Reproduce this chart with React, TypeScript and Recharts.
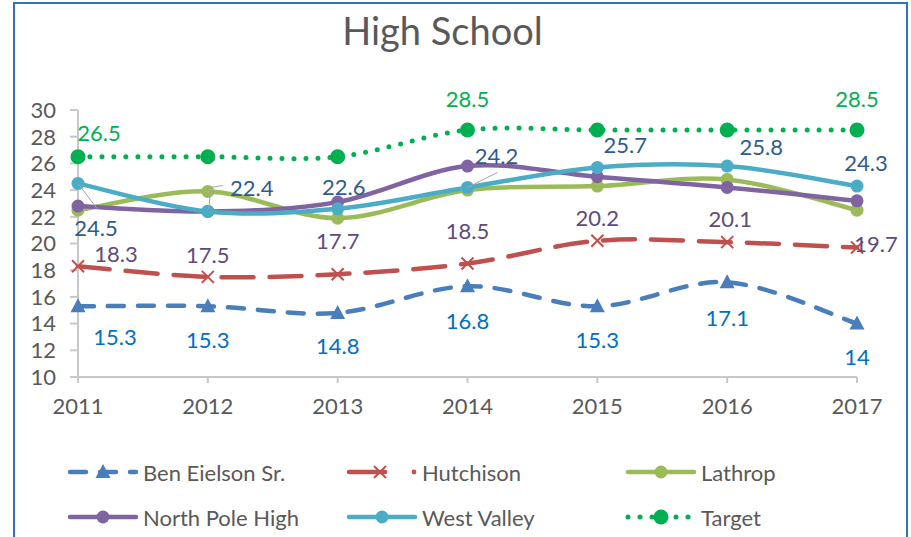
import React from 'react';
import { LineChart, Line, XAxis, YAxis, LabelList } from 'recharts';

const YEARS = ['2011', '2012', '2013', '2014', '2015', '2016', '2017'];
const BEN_EIELSON = [15.3, 15.3, 14.8, 16.8, 15.3, 17.1, 14];
const HUTCHISON = [18.3, 17.5, 17.7, 18.5, 20.2, 20.1, 19.7];
const LATHROP = [22.5, 23.9, 21.9, 24.0, 24.3, 24.8, 22.5];
const NORTH_POLE = [22.8, 22.4, 23.1, 25.8, 25.0, 24.2, 23.2];
const WEST_VALLEY = [24.5, 22.4, 22.6, 24.2, 25.7, 25.8, 24.3];
const TARGET = [26.5, 26.5, 26.5, 28.5, 28.5, 28.5, 28.5];
const Y_TICKS = [10, 12, 14, 16, 18, 20, 22, 24, 26, 28, 30];

const data = YEARS.map((year, i) => ({
  year,
  ben: BEN_EIELSON[i],
  hut: HUTCHISON[i],
  lat: LATHROP[i],
  np: NORTH_POLE[i],
  wv: WEST_VALLEY[i],
  target: TARGET[i],
}));

const FONT = 'Lato, "Open Sans", sans-serif';
const GREY_TEXT = '#595959';
const AXIS_GREY = '#c8c8c8';
const TEXT_SIZE = 22;

// label offsets from the point (centre of text), hand-placed like the excel labels
const BEN_LABEL_POS = [[37, 30], [0, 33], [0, 33], [0, 34], [0, 33], [0, 35], [0, 33]];
const HUT_LABEL_POS = [[38, -13], [0, -22], [0, -34], [0, -33], [0, -23], [3, -24], [19, -4]];
const WV_LABEL_POS = [[18, 44], [44, -24], [6, -22], [29, -32], [28, -23], [34, -20], [9, -24]];
const TARGET_LABEL_POS = [[21, -24], null, null, [0, -32], null, null, [0, -32]];
const WV_LEADERS: Record<number, number[][]> = {
  0: [[0, 0], [19, 25]],
  1: [[1, -3], [3, -24], [15, -26]],
  3: [[0, 0], [30, -15]],
};

// excel-like smoothing (catmull-rom as bezier)
const curveExcel = (context: any) => {
  let pts: number[][] = [];
  return {
    areaStart() {},
    areaEnd() {},
    lineStart() {
      pts = [];
    },
    point(x: number, y: number) {
      pts.push([+x, +y]);
    },
    lineEnd() {
      const n = pts.length;
      if (!n) return;
      context.moveTo(pts[0][0], pts[0][1]);
      for (let i = 0; i < n - 1; i++) {
        const p0 = pts[i - 1] || pts[i];
        const p1 = pts[i];
        const p2 = pts[i + 1];
        const p3 = pts[i + 2] || p2;
        context.bezierCurveTo(
          p1[0] + (p2[0] - p0[0]) / 6,
          p1[1] + (p2[1] - p0[1]) / 6,
          p2[0] - (p3[0] - p1[0]) / 6,
          p2[1] - (p3[1] - p1[1]) / 6,
          p2[0],
          p2[1]
        );
      }
    },
  };
};

const Triangle = ({ cx, cy, color }: any) => (
  <path d={`M${cx},${cy - 8} L${cx + 7.5},${cy + 6} L${cx - 7.5},${cy + 6} Z`} fill={color} />
);

const Cross = ({ cx, cy, color }: any) => (
  <g stroke={color} strokeWidth={2}>
    <line x1={cx - 6} y1={cy - 6} x2={cx + 6} y2={cy + 6} />
    <line x1={cx - 6} y1={cy + 6} x2={cx + 6} y2={cy - 6} />
  </g>
);

const Circle = ({ cx, cy, color, r }: any) => <circle cx={cx} cy={cy} r={r} fill={color} />;

function makeLabel(color: string, positions: (number[] | null)[], leaders?: Record<number, number[][]>) {
  return (props: any) => {
    let idx = props.index;
    if (idx == null && props.payload) idx = YEARS.indexOf(props.payload.year);
    const pos = positions[idx];
    if (!pos) return null;
    const x = Number(props.x);
    const y = Number(props.y);
    const lead = leaders && leaders[idx];
    return (
      <g key={`lbl-${color}-${idx}`}>
        {lead && (
          <polyline
            points={lead.map((p) => `${x + p[0]},${y + p[1]}`).join(' ')}
            fill="none"
            stroke="#a6a6a6"
            strokeWidth={1}
          />
        )}
        <text
          x={x + pos[0]}
          y={y + pos[1]}
          textAnchor="middle"
          dominantBaseline="central"
          fill={color}
          fontSize={TEXT_SIZE}
          fontFamily={FONT}
        >
          {props.value}
        </text>
      </g>
    );
  };
}

const SERIES = [
  { key: 'ben', name: 'Ben Eielson Sr.', color: '#4a7ebb', dash: '16 14', width: 4.5, marker: 'tri' },
  { key: 'hut', name: 'Hutchison', color: '#c0504d', dash: '32 16', width: 4.5, marker: 'x' },
  { key: 'lat', name: 'Lathrop', color: '#9bbb59', dash: undefined, width: 4.5, marker: 'circle' },
  { key: 'np', name: 'North Pole High', color: '#8064a2', dash: undefined, width: 4.5, marker: 'circle' },
  { key: 'wv', name: 'West Valley', color: '#4bacc6', dash: undefined, width: 4.5, marker: 'circle' },
  { key: 'target', name: 'Target', color: '#00b050', dash: '0 12', width: 5, marker: 'big' },
];

function renderMarker(s: any, cx: number, cy: number) {
  if (s.marker === 'tri') return <Triangle cx={cx} cy={cy} color={s.color} />;
  if (s.marker === 'x') return <Cross cx={cx} cy={cy} color={s.color} />;
  return <Circle cx={cx} cy={cy} color={s.color} r={s.marker === 'big' ? 7.5 : 6.5} />;
}

const LegendIcon = ({ s }: any) => (
  <svg width={76} height={20} style={{ display: 'block' }}>
    {s.key === 'hut' ? (
      <g>
        <line x1={4} y1={10} x2={40} y2={10} stroke={s.color} strokeWidth={s.width} strokeLinecap="round" />
        <circle cx={69} cy={10} r={2.4} fill={s.color} />
      </g>
    ) : (
      <line
        x1={4}
        y1={10}
        x2={70}
        y2={10}
        stroke={s.color}
        strokeWidth={s.width}
        strokeDasharray={s.dash}
        strokeLinecap="round"
      />
    )}
    {renderMarker(s, s.key === 'hut' ? 35 : 37, 10)}
  </svg>
);

const LABELS: Record<string, any> = {
  ben: makeLabel('#0070c0', BEN_LABEL_POS),
  hut: makeLabel('#604a7b', HUT_LABEL_POS),
  wv: makeLabel('#2f5b8e', WV_LABEL_POS, WV_LEADERS),
  target: makeLabel('#00b050', TARGET_LABEL_POS),
};

const LEGEND_COLS = [66, 345, 624];
const LEGEND_ROWS = [472, 517];

export default function App() {
  return (
    <div
      style={{
        position: 'absolute',
        left: 0,
        top: 0,
        width: 911,
        height: 537,
        overflow: 'hidden',
        background: '#fff',
        fontFamily: FONT,
      }}
    >
      <div
        style={{
          position: 'absolute',
          left: 13,
          top: 2,
          width: 895,
          height: 600,
          border: '2px solid #2e75b6',
          boxSizing: 'border-box',
        }}
      />
      <div
        style={{
          position: 'absolute',
          left: 0,
          width: 885,
          top: 7,
          textAlign: 'center',
          fontSize: 38,
          color: GREY_TEXT,
          lineHeight: '46px',
        }}
      >
        High School
      </div>
      <div style={{ position: 'absolute', left: 0, top: 0 }}>
        <LineChart width={911} height={537} data={data} margin={{ top: 110, right: 54, left: 0, bottom: 130 }}>
          <XAxis
            dataKey="year"
            height={30}
            tickSize={6}
            tickMargin={15}
            stroke={AXIS_GREY}
            strokeWidth={2}
            tick={{ fill: GREY_TEXT, fontSize: TEXT_SIZE, fontFamily: FONT }}
          />
          <YAxis
            width={78}
            domain={[10, 30]}
            ticks={Y_TICKS}
            interval={0}
            tickSize={8}
            tickMargin={14}
            stroke={AXIS_GREY}
            strokeWidth={2}
            tick={{ fill: GREY_TEXT, fontSize: TEXT_SIZE, fontFamily: FONT }}
          />
          {SERIES.map((s) => (
            <Line
              key={s.key}
              dataKey={s.key}
              name={s.name}
              type={curveExcel as any}
              stroke={s.color}
              strokeWidth={s.width}
              strokeDasharray={s.dash}
              strokeLinecap="round"
              isAnimationActive={false}
              dot={(p: any) => <g key={`${s.key}-dot-${p.index}`}>{renderMarker(s, p.cx, p.cy)}</g>}
              activeDot={false}
            >
              {LABELS[s.key] && <LabelList dataKey={s.key} content={LABELS[s.key]} />}
            </Line>
          ))}
        </LineChart>
      </div>
      {SERIES.map((s, i) => {
        const col = i % 3;
        const row = Math.floor(i / 3);
        return (
          <div
            key={s.key}
            style={{
              position: 'absolute',
              left: LEGEND_COLS[col],
              top: LEGEND_ROWS[row] - 14,
              height: 28,
              display: 'flex',
              alignItems: 'center',
              fontSize: TEXT_SIZE,
              color: GREY_TEXT,
              whiteSpace: 'nowrap',
            }}
          >
            <LegendIcon s={s} />
            <span style={{ marginLeft: 1 }}>{s.name}</span>
          </div>
        );
      })}
    </div>
  );
}
